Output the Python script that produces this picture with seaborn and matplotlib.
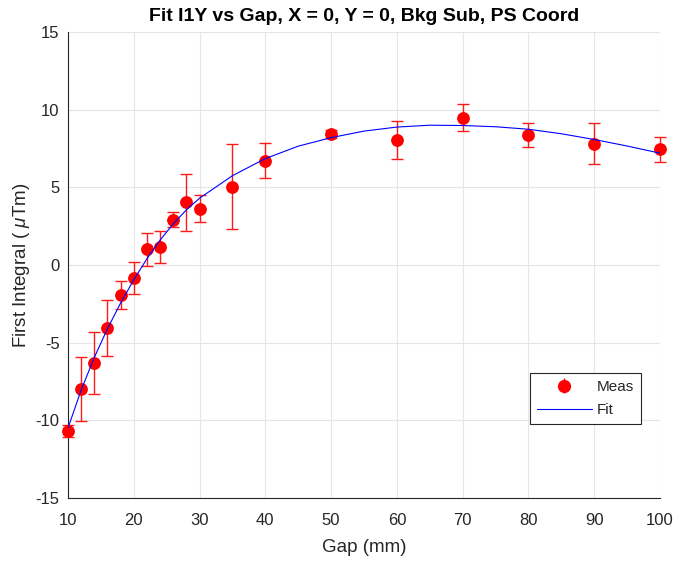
import matplotlib
matplotlib.use("Agg")
import matplotlib.pyplot as plt
import seaborn as sns
import numpy as np
import pandas as pd
from matplotlib.lines import Line2D

# Measured data
gap = [10, 12, 14, 16, 18, 20, 22, 24, 26, 28, 30, 35, 40, 50, 60, 70, 80, 90, 100]
meas = [-10.7, -8.0, -6.29, -4.06, -1.93, -0.82, 1.01, 1.18, 2.9, 4.04, 3.63, 5.04,
        6.72, 8.41, 8.05, 9.49, 8.37, 7.81, 7.45]
err = [0.4, 2.05, 2.0, 1.78, 0.9, 1.04, 1.05, 1.02, 0.48, 1.85, 0.89, 2.72,
       1.12, 0.25, 1.25, 0.89, 0.78, 1.3, 0.8]

# Fit curve
fit_gap = [10, 12, 14, 16, 18, 20, 22, 24, 26, 28, 30, 35, 40, 45, 50, 55, 60, 65,
           70, 75, 80, 85, 90, 95, 100]
fit_val = [-10.5, -8.05, -5.95, -4.1, -2.45, -0.95, 0.4, 1.6, 2.65, 3.55, 4.3, 5.75,
           6.85, 7.65, 8.2, 8.62, 8.88, 9.0, 8.98, 8.9, 8.74, 8.45, 8.08, 7.66, 7.2]

xticks = [10, 20, 30, 40, 50, 60, 70, 80, 90, 100]
yticks = [-15, -10, -5, 0, 5, 10, 15]

sns.set_style("white")
plt.rcParams['font.family'] = ['Liberation Sans', 'DejaVu Sans']
plt.rcParams['mathtext.fontset'] = 'custom'
plt.rcParams['mathtext.it'] = 'Liberation Sans:italic'
plt.rcParams['mathtext.rm'] = 'Liberation Sans'

fig = plt.figure(figsize=(6.75, 5.66), dpi=100)
ax = fig.add_axes([68/675, 68/566, (660-68)/675, (498-32)/566])

df_fit = pd.DataFrame({"gap": fit_gap, "val": fit_val})
df_meas = pd.DataFrame({"gap": gap, "val": meas, "err": err})

eb = ax.errorbar(df_meas["gap"], df_meas["val"], yerr=df_meas["err"], fmt='none',
                 ecolor='#ff1a1a', elinewidth=1.0, capsize=4.4, capthick=1.0, zorder=3)
for art in eb.get_children():
    art.set_clip_on(False)
sns.scatterplot(data=df_meas, x="gap", y="val", ax=ax, color='#ff0000', s=85,
                edgecolor='#ff0000', linewidth=0, zorder=4, legend=False, clip_on=False)
sns.lineplot(data=df_fit, x="gap", y="val", ax=ax, color='#0000ff', linewidth=0.8,
             zorder=5, legend=False)

ax.set_xlim(10, 100)
ax.set_ylim(-15, 15)
ax.set_xticks(xticks)
ax.set_yticks(yticks)
ax.set_xticklabels([str(t) for t in xticks])
ax.set_yticklabels([str(t) for t in yticks])
ax.grid(True, color='#e6e6e6', linewidth=0.8)
ax.set_axisbelow(True)
for s in ['top', 'right']:
    ax.spines[s].set_visible(False)
for s in ['left', 'bottom']:
    ax.spines[s].set_color('#262626')
    ax.spines[s].set_linewidth(0.8)
ax.tick_params(direction='in', length=4, width=0.8, color='#262626',
               labelsize=12, labelcolor='#262626')
ax.tick_params(axis='y', pad=6)
ax.tick_params(axis='x', pad=10.5)

ax.set_xlabel("Gap (mm)", fontsize=13.5, color='#262626')
ax.set_ylabel(r"First Integral ( $\mu$Tm)", fontsize=13.5, color='#262626')
ax.xaxis.set_label_coords(0.5, (498-539)/466)
ax.yaxis.set_label_coords((32-68)/592, 0.5)
ax.set_title("Fit I1Y vs Gap, X = 0, Y = 0, Bkg Sub, PS Coord", fontsize=14,
             fontweight='bold', color='black', pad=8)

h_meas = ax.errorbar([], [], yerr=[], fmt='o', color='#ff0000', ms=8.5, capsize=3.5,
                     elinewidth=1.0)
h_fit = Line2D([], [], color='#0000ff', linewidth=0.8)
leg = ax.legend([h_meas, h_fit], ["Meas", "Fit"], loc='upper left',
                bbox_to_anchor=((530-68)/592, (498-373)/466), fontsize=11,
                frameon=True, fancybox=False, edgecolor='#262626', framealpha=1,
                borderpad=0.45, handlelength=3.6, labelspacing=0.6, handletextpad=0.3,
                borderaxespad=0)
leg.get_frame().set_linewidth(0.8)

fig.savefig("out.png", dpi=100)
